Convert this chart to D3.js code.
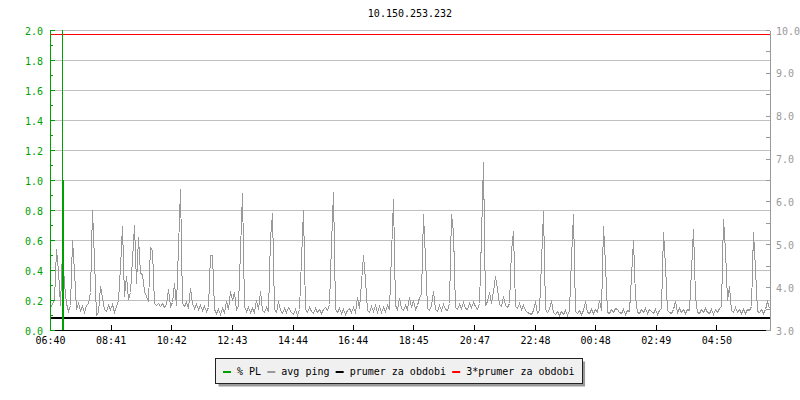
<!DOCTYPE html>
<html><head><meta charset="utf-8">
<script src="https://cdn.jsdelivr.net/npm/d3@7"></script>
<style>
html,body{margin:0;padding:0;background:#fff;}
svg{display:block;font-family:"DejaVu Sans Mono",monospace;font-size:10px;}
</style></head><body>
<svg id="chart" width="800" height="400"></svg>
<script>
// ---------------- data ----------------
const title = "10.150.253.232";
const startTime = "06:40";
const sampleStepMin = 4;          // minutes between ping samples
const spanMin = 1437;             // minutes covered by the x axis
const xTickLabels = ["06:40","08:41","10:42","12:43","14:44","16:44","18:45","20:47","22:48","00:48","02:49","04:50"];
const plTicks = [0,0.2,0.4,0.6,0.8,1.0,1.2,1.4,1.6,1.8,2.0];
const plMinorTicks = [0.1,0.3,0.5,0.7,0.9,1.1,1.3,1.5,1.7,1.9];
const pingTicks = [3,3.5,4,4.5,5,5.5,6,6.5,7,7.5,8,8.5,9,9.5,10];

// avg ping [ms], one value per 4 minutes
const pingMs = [
 3.52,3.62,3.70,4.89,4.37,3.58,4.86,4.09,3.63,3.44,3.58,5.10,4.37,3.50,3.62,3.46,3.57,3.42,3.58,3.63,3.88,5.80,4.65,3.35,3.42,4.02,3.77,3.50,3.44,3.58,
 3.48,3.60,3.43,3.56,3.70,4.47,5.42,3.80,4.26,3.72,3.88,4.65,5.45,4.09,5.17,4.33,4.30,3.90,3.80,3.68,4.93,4.86,3.63,3.58,3.64,3.55,3.62,3.54,3.60,3.95,
 3.56,3.65,4.09,3.58,4.93,6.29,3.62,3.55,3.66,3.52,3.98,3.62,3.52,3.61,3.48,3.58,3.46,3.57,3.44,3.54,4.75,4.75,3.48,3.40,3.50,3.38,3.52,3.43,3.67,3.50,
 3.91,3.70,3.88,3.46,3.58,4.86,6.19,3.56,3.44,3.54,3.41,3.52,3.43,3.70,3.50,3.91,3.46,3.42,3.54,3.45,5.14,5.73,3.50,3.42,3.67,3.47,3.40,3.51,3.43,3.54,
 3.41,3.37,3.48,3.35,3.49,4.65,5.80,3.48,3.41,3.54,3.44,3.40,3.52,3.42,3.50,3.39,3.49,3.54,3.46,3.60,5.00,6.22,3.50,3.42,3.51,3.40,3.49,3.38,3.47,3.51,
 3.41,3.53,3.43,3.77,3.52,4.12,4.75,4.16,3.47,3.42,3.55,3.45,3.58,3.43,3.56,3.42,3.54,3.45,3.58,3.50,4.79,6.05,3.58,3.49,3.74,3.52,3.47,3.59,3.50,3.77,
 3.53,3.70,3.49,3.58,3.77,3.84,5.70,4.68,3.52,3.47,3.59,3.91,3.49,3.45,3.58,3.47,3.60,3.49,3.46,3.62,5.70,5.28,3.53,3.50,3.61,3.51,3.65,3.52,3.49,3.62,
 3.53,3.65,3.55,3.50,3.63,5.20,6.92,3.58,3.68,3.88,3.63,3.91,4.26,3.98,3.60,3.55,3.80,3.58,3.53,3.64,4.86,5.31,3.55,3.52,3.62,3.49,3.58,3.46,3.42,3.39,
 3.37,3.46,3.67,3.39,3.47,4.58,5.77,3.50,3.42,3.50,3.70,3.41,3.37,3.45,3.35,3.44,3.37,3.47,3.36,3.46,4.68,5.70,3.45,3.39,3.47,3.37,3.46,3.67,3.42,3.39,
 3.48,3.39,3.50,3.41,3.70,3.47,5.42,4.54,3.42,3.39,3.49,3.41,3.52,3.48,3.43,3.40,3.50,3.38,3.47,3.45,4.26,5.10,3.77,3.43,3.39,3.49,3.41,3.52,3.40,3.48,
 3.45,3.39,3.48,3.37,3.47,3.52,5.28,4.51,3.47,3.43,3.40,3.50,3.67,3.42,3.52,3.41,3.50,3.39,3.49,3.47,4.40,5.35,3.80,3.43,3.39,3.50,3.41,3.52,3.43,3.39,
 3.48,3.38,3.49,3.41,3.52,3.55,5.59,4.86,3.70,4.02,3.47,3.43,3.54,3.41,3.50,3.40,3.49,3.39,3.48,3.47,3.56,5.28,4.44,3.45,3.41,3.49,3.39,3.48,3.67,3.52
];

// % packet loss samples (minutes from start, value)
const plMinutes = [0, 23, 25, 1436];
const plValues  = [0, 1.0, 0, 0];
const plOffScaleMinutes = [24];   // sample beyond the top of the scale

const meanPing = 3.29;        // prumer za obdobi
const tripleMeanPing = 9.90;  // 3*prumer za obdobi

const legendLabels = ["% PL","avg ping","prumer za obdobi","3*prumer za obdobi"];

// ---------------- style ----------------
const C = {green:"#00a000", gray:"#999999", grid:"#c0c0c0", black:"#000000", red:"#ff0000"};
const legendColors = [C.green, C.gray, C.black, C.red];
const M = {left:50, right:770, top:30, bottom:330};

const svg = d3.select("#chart");
const toMin = s => { const [h,m] = s.split(":").map(Number); const [h0,m0] = startTime.split(":").map(Number);
  return ((h*60+m) - (h0*60+m0) + 1440) % 1440; };

const x = d3.scaleLinear().domain([0, spanMin]).range([M.left, M.right]);
const yPL = d3.scaleLinear().domain([0, 2]).range([M.bottom, M.top]);
const yPing = d3.scaleLinear().domain([3, 10]).range([M.bottom, M.top]);

// title
svg.append("text").attr("x", (M.left+M.right)/2).attr("y", 17).attr("text-anchor","middle")
  .attr("fill","#000").text(title);

// clip
svg.append("defs").append("clipPath").attr("id","plot")
  .append("rect").attr("x",M.left).attr("y",M.top).attr("width",M.right-M.left).attr("height",M.bottom-M.top);

// gridlines
svg.append("g").attr("shape-rendering","crispEdges").selectAll("line")
  .data(plTicks.filter(d=>d>0)).join("line")
  .attr("x1",M.left).attr("x2",M.right)
  .attr("y1",d=>Math.round(yPL(d))+0.5).attr("y2",d=>Math.round(yPL(d))+0.5)
  .attr("stroke",C.grid).attr("stroke-width",1);

const plot = svg.append("g").attr("clip-path","url(#plot)");

// ping line
plot.append("path").datum(pingMs)
  .attr("d", d3.line().x((d,i)=>Math.round(x(i*sampleStepMin))+0.5).y(d=>Math.round(yPing(d))+0.5).curve(d3.curveLinear))
  .attr("fill","none").attr("stroke",C.gray).attr("stroke-width",1).attr("shape-rendering","crispEdges");

// mean and 3*mean
plot.append("line").attr("x1",M.left).attr("x2",M.right)
  .attr("y1",yPing(meanPing)).attr("y2",yPing(meanPing))
  .attr("stroke",C.black).attr("stroke-width",2).attr("shape-rendering","crispEdges");
plot.append("line").attr("x1",M.left).attr("x2",M.right)
  .attr("y1",Math.round(yPing(tripleMeanPing))+0.5).attr("y2",Math.round(yPing(tripleMeanPing))+0.5)
  .attr("stroke",C.red).attr("stroke-width",1).attr("shape-rendering","crispEdges");

// % PL
const plData = plMinutes.map((m,i)=>({m, v:plValues[i]}));
plot.append("path").datum(plData)
  .attr("d", d3.line().x(d=>Math.round(x(d.m))+0.5).y(d=>yPL(d.v)).curve(d3.curveStepAfter))
  .attr("fill","none").attr("stroke",C.green).attr("stroke-width",1).attr("shape-rendering","crispEdges");
plot.selectAll("line.off").data(plOffScaleMinutes).join("line").attr("class","off")
  .attr("x1",d=>Math.round(x(d))+0.5).attr("x2",d=>Math.round(x(d))+0.5)
  .attr("y1",yPL(0)).attr("y2",yPL(2))
  .attr("stroke",C.green).attr("stroke-width",1).attr("shape-rendering","crispEdges");

// bottom axis
const gx = svg.append("g").attr("transform",`translate(0,${M.bottom})`)
  .call(d3.axisBottom(x).tickValues(xTickLabels.map(toMin)).tickFormat((d,i)=>xTickLabels[i])
    .tickSizeInner(-5).tickSizeOuter(0).tickPadding(7));
gx.attr("font-family",null).attr("font-size",null);
gx.selectAll("path,line").attr("stroke",C.black).attr("shape-rendering","crispEdges");
gx.selectAll("text").attr("fill",C.black);

// left axis
const gl = svg.append("g").attr("transform",`translate(${M.left},0)`)
  .call(d3.axisLeft(yPL).tickValues(plTicks).tickFormat(d3.format(".1f"))
    .tickSizeInner(-5).tickSizeOuter(0).tickPadding(7));
gl.attr("font-family",null).attr("font-size",null);
gl.selectAll("path,line").attr("stroke",C.green).attr("shape-rendering","crispEdges");
gl.selectAll("text").attr("fill",C.green).attr("dy","0.4em");
const glm = svg.append("g").attr("transform",`translate(${M.left},0)`)
  .call(d3.axisLeft(yPL).tickValues(plMinorTicks).tickFormat("").tickSizeInner(-3).tickSizeOuter(0));
glm.select(".domain").remove();
glm.selectAll("line").attr("stroke",C.green).attr("shape-rendering","crispEdges");

// right axis
const gr = svg.append("g").attr("transform",`translate(${M.right},0)`)
  .call(d3.axisRight(yPing).tickValues(pingTicks).tickFormat(d=>Number.isInteger(d)?d3.format(".1f")(d):"")
    .tickSizeInner(-4).tickSizeOuter(0).tickPadding(6));
gr.attr("font-family",null).attr("font-size",null);
gr.selectAll("path,line").attr("stroke",C.gray).attr("shape-rendering","crispEdges");
gr.selectAll("text").attr("fill",C.gray).attr("dy","0.4em");

// legend
const lg = svg.append("g");
const shadow = lg.append("rect").attr("fill","#9a9a9a");
const box = lg.append("rect").attr("fill","#f0f0f0").attr("stroke","#222").attr("shape-rendering","crispEdges");
const items = lg.append("g");
let cx = 0;
legendLabels.forEach((lab,i)=>{
  const g = items.append("g").attr("transform",`translate(${cx},0)`);
  g.append("rect").attr("x",0).attr("y",-4).attr("width",8).attr("height",2).attr("fill",legendColors[i]);
  const t = g.append("text").attr("x",14).attr("y",0).attr("fill","#000").text(lab);
  cx += 14 + t.node().getComputedTextLength() + 6.2;
});
const contentW = cx - 6.2;
const pad = 7.5, bw = contentW + 2*pad, bh = 25;
const bx = Math.round(398.5 - bw/2) + 0.5, by = 358.5;
box.attr("x",bx).attr("y",by).attr("width",bw).attr("height",bh);
shadow.attr("x",bx+3).attr("y",by+3).attr("width",bw).attr("height",bh);
items.attr("transform",`translate(${bx+pad},${by+16.5})`);
</script>
</body></html>
